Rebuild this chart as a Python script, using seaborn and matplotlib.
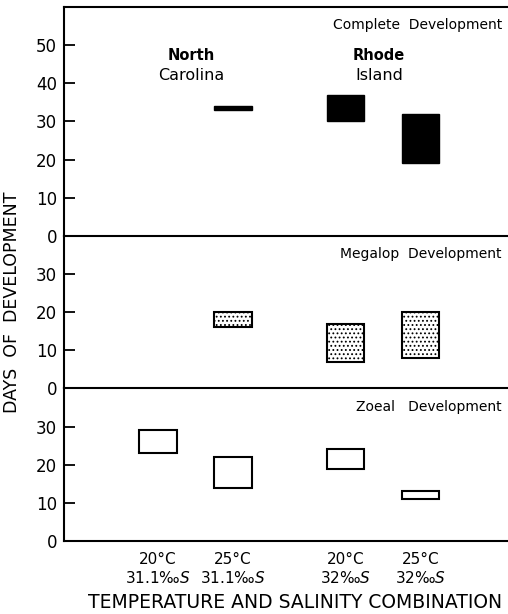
import numpy as np
import pandas as pd
import matplotlib
matplotlib.use("Agg")
import matplotlib.pyplot as plt
import seaborn as sns

# ---- data ----
groups = ["North Carolina", "Rhode Island"]
conditions = ["20°C", "25°C"]
temp_labels = ["20°C", "25°C", "20°C", "25°C"]
sal_labels = ["31.1‰$S$", "31.1‰$S$", "32‰$S$", "32‰$S$"]

complete_low = [np.nan, 33, 30, 19]
complete_high = [np.nan, 34, 37, 32]
megalop_low = [np.nan, 16, 7, 8]
megalop_high = [np.nan, 20, 17, 20]
zoeal_low = [23, 14, 19, 11]
zoeal_high = [29, 22, 24, 13]

panel_titles = ["Complete  Development", "Megalop  Development", "Zoeal   Development"]

# ---- layout helpers ----
group_gap = 1.5
pos = []
for gi, g in enumerate(groups):
    for ci, c in enumerate(conditions):
        pos.append(1.0 + gi * (len(conditions) - 1 + group_gap) + ci)

sns.set_theme(style="white")
plt.rcParams["font.family"] = ["DejaVu Sans"]
plt.rcParams["hatch.linewidth"] = 0.8
for k in ["text.color", "axes.labelcolor", "xtick.color", "ytick.color", "axes.edgecolor"]:
    plt.rcParams[k] = "black"

fig, axes = plt.subplots(3, 1, figsize=(5.08, 6.14), dpi=100, sharex=True,
                         gridspec_kw=dict(height_ratios=[3, 2, 2], hspace=0))
fig.subplots_adjust(left=0.126, right=1.0, top=0.9886, bottom=0.1189)

panels = [
    (complete_low, complete_high, dict(color="black", edgecolor="black", linewidth=1.0), 60, [0, 10, 20, 30, 40, 50]),
    (megalop_low, megalop_high, dict(color="white", edgecolor="black", linewidth=1.5, hatch="...."), 40, [0, 10, 20, 30]),
    (zoeal_low, zoeal_high, dict(color="white", edgecolor="black", linewidth=1.5), 40, [0, 10, 20, 30]),
]

for ax, (lo, hi, style, ymax, yt), title in zip(axes, panels, panel_titles):
    df = pd.DataFrame({"pos": pos, "low": lo, "high": hi}).dropna()
    df["span"] = df["high"] - df["low"]
    sns.barplot(data=df, x="pos", y="span", native_scale=True, width=0.5,
                errorbar=None, bottom=df["low"].values, ax=ax, **style)
    ax.set_facecolor("none")
    ax.set_ylim(0, ymax)
    ax.set_yticks(yt)
    ax.set_ylabel("")
    ax.set_xlabel("")
    ax.tick_params(axis="y", direction="in", length=8, width=1.3, left=True,
                   labelsize=12, pad=5)
    ax.tick_params(axis="x", length=0)
    for s in ["right", "top"]:
        ax.spines[s].set_visible(False)
    for s in ["left", "bottom"]:
        ax.spines[s].set_linewidth(1.5)
        ax.spines[s].set_color("black")
    ax.text(0.986, 0.92 if ymax == 60 else 0.88, title, transform=ax.transAxes,
            ha="right", va="center", fontsize=10)

axes[0].spines["top"].set_visible(True)
axes[0].spines["top"].set_linewidth(1.5)
axes[0].spines["top"].set_color("black")

# group labels
for gi, g in enumerate(groups):
    gx = np.mean(pos[gi * len(conditions):(gi + 1) * len(conditions)]) - 0.05
    w1, w2 = g.split(" ")
    axes[0].text(gx, 47.4, w1, ha="center", va="center", fontsize=10.5, fontweight="bold")
    axes[0].text(gx, 42, w2, ha="center", va="center", fontsize=11.5)

ax = axes[-1]
ax.set_xlim(-0.253, 5.667)
ax.set_xticks(pos)
ax.set_xticklabels([f"{t}\n{s}" for t, s in zip(temp_labels, sal_labels)], fontsize=11)
ax.tick_params(axis="x", pad=8)
ax.set_xlabel("TEMPERATURE AND SALINITY COMBINATION", fontsize=13.5, labelpad=4)
ax.xaxis.set_label_coords(0.52, -0.34)

fig.text(0.024, 0.507, "DAYS  OF  DEVELOPMENT", rotation=90, ha="center", va="center", fontsize=12.5)

fig.savefig("out.png", dpi=100)
